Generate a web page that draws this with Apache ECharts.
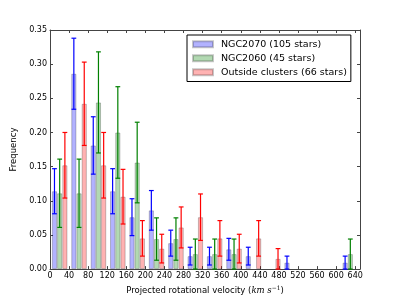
<!DOCTYPE html>
<html>
<head>
<meta charset="utf-8">
<script src="https://cdn.jsdelivr.net/npm/echarts@6/dist/echarts.min.js"></script>
<style>html,body{margin:0;padding:0;background:#fff}#c{width:400px;height:300px}</style>
</head>
<body>
<div id="c"></div>
<script>
// ---- data ----
const binCenters = [20.3, 60.9, 101.6, 142.2, 182.8, 223.4, 264.1, 304.7, 345.3, 385.9, 426.6, 467.2, 507.8, 548.4, 589.1, 629.7];
const seriesNames = ['NGC2070 (105 stars)', 'NGC2060 (45 stars)', 'Outside clusters (66 stars)'];
const blueFreq  = [0.114, 0.286, 0.181, 0.114, 0.076, 0.086, 0.038, 0.019, 0.019, 0.029, 0.019, 0, 0.0095, 0, 0, 0.0095];
const blueErr   = [0.033, 0.052, 0.042, 0.033, 0.027, 0.029, 0.019, 0.013, 0.013, 0.016, 0.013, 0, 0.0095, 0, 0, 0.0095];
const greenFreq = [0.111, 0.111, 0.244, 0.200, 0.156, 0.044, 0.044, 0.022, 0.022, 0.022, 0, 0, 0, 0, 0, 0.022];
const greenErr  = [0.050, 0.050, 0.074, 0.067, 0.059, 0.031, 0.031, 0.022, 0.022, 0.022, 0, 0, 0, 0, 0, 0.022];
const redFreq   = [0.152, 0.242, 0.152, 0.106, 0.045, 0.030, 0.061, 0.076, 0.045, 0.030, 0.045, 0.015, 0, 0, 0, 0];
const redErr    = [0.048, 0.061, 0.048, 0.040, 0.026, 0.021, 0.030, 0.034, 0.026, 0.021, 0.026, 0.015, 0, 0, 0, 0];
const xMin = 0, xMax = 650, xStep = 40;
const yMin = 0, yMax = 0.35, yStep = 0.05;

// ---- styles ----
const FONT = 'DejaVu Sans';
const BAR_PX = 5.2;
const fills = ['rgba(0,0,255,0.3)', 'rgba(0,128,0,0.3)', 'rgba(255,0,0,0.3)'];
const errColors = ['#0000ff', '#008000', '#ff0000'];
const offsets = [-BAR_PX, 0, BAR_PX];
const freqs = [blueFreq, greenFreq, redFreq];
const errs = [blueErr, greenErr, redErr];

function barData(f) {
  const out = [];
  f.forEach((v, i) => { if (v > 0) out.push([binCenters[i], v]); });
  return out;
}
function errData(f, e) {
  const out = [];
  f.forEach((v, i) => { if (v > 0) out.push([binCenters[i], v, e[i]]); });
  return out;
}
function errRender(k) {
  return function (params, api) {
    const x = api.value(0), v = api.value(1), e = api.value(2);
    const top = api.coord([x, v + e]);
    const bot = api.coord([x, Math.max(0, v - e)]);
    const px = top[0] + offsets[k];
    const st = { stroke: errColors[k], lineWidth: 1.2 };
    const cw = 2.4;
    return {
      type: 'group',
      children: [
        { type: 'line', shape: { x1: px, y1: top[1], x2: px, y2: bot[1] }, style: st },
        { type: 'line', shape: { x1: px - cw, y1: top[1], x2: px + cw, y2: top[1] }, style: st },
        { type: 'line', shape: { x1: px - cw, y1: bot[1], x2: px + cw, y2: bot[1] }, style: st }
      ]
    };
  };
}

const axisLineStyle = { color: '#444', width: 1 };
const tickStyle = { show: true, inside: true, length: 3, lineStyle: { color: '#444', width: 1 } };

const series = [];
for (let k = 0; k < 3; k++) {
  series.push({
    name: seriesNames[k], type: 'bar', xAxisIndex: 0, yAxisIndex: 0,
    barWidth: BAR_PX, barGap: '0%',
    itemStyle: { color: fills[k], borderColor: 'rgba(0,0,0,0.22)', borderWidth: 1 },
    data: barData(freqs[k]), silent: true, z: 2
  });
}
for (let k = 0; k < 3; k++) {
  series.push({
    type: 'custom', xAxisIndex: 0, yAxisIndex: 0,
    renderItem: errRender(k), encode: { x: 0, y: 1 },
    data: errData(freqs[k], errs[k]), silent: true, z: 3
  });
}

const chart = echarts.init(document.getElementById('c'), null, { renderer: 'canvas' });
chart.setOption({
  animation: false,
  backgroundColor: '#fff',
  textStyle: { fontFamily: FONT },
  grid: { left: 50, right: 40, top: 30, bottom: 30, containLabel: false },
  legend: {
    data: seriesNames, orient: 'vertical', left: 187, top: 35,
    padding: [4, 4, 4, 5], itemGap: 3.5, itemWidth: 20, itemHeight: 6,
    backgroundColor: '#fff', borderColor: '#000', borderWidth: 1, borderRadius: 0,
    textStyle: { fontFamily: FONT, fontSize: 9.5, color: '#000', lineHeight: 10.5, padding: [0, 0, 0, 3] },
    icon: 'rect', selectedMode: false, z: 10
  },
  xAxis: [{
    type: 'value', min: xMin, max: xMax, interval: xStep,
    name: 'Projected rotational velocity ({i|km s}{s|−1})',
    nameLocation: 'middle', nameGap: 6,
    nameTextStyle: {
      fontFamily: FONT, fontSize: 8.5, color: '#000',
      rich: {
        i: { fontFamily: 'DejaVu Serif', fontStyle: 'italic', fontSize: 8.5, color: '#000' },
        s: { fontFamily: 'DejaVu Serif', fontSize: 6, color: '#000', verticalAlign: 'top', padding: [0, 0, 5, 0] }
      }
    },
    axisLine: { show: true, onZero: false, lineStyle: axisLineStyle },
    axisTick: tickStyle,
    axisLabel: { fontFamily: FONT, fontSize: 8, color: '#000', margin: 3, showMaxLabel: false },
    splitLine: { show: false }
  }, {
    type: 'value', position: 'top', min: xMin, max: xMax, interval: xStep,
    axisLine: { show: true, onZero: false, lineStyle: axisLineStyle },
    axisTick: tickStyle, axisLabel: { show: false }, splitLine: { show: false }
  }],
  yAxis: [{
    type: 'value', min: yMin, max: yMax, interval: yStep,
    name: 'Frequency', nameLocation: 'middle', nameGap: 21, nameRotate: 90,
    nameTextStyle: { fontFamily: FONT, fontSize: 8.5, color: '#000' },
    axisLine: { show: true, onZero: false, lineStyle: axisLineStyle },
    axisTick: tickStyle,
    axisLabel: { fontFamily: FONT, fontSize: 8, color: '#000', margin: 3, formatter: v => v.toFixed(2) },
    splitLine: { show: false }
  }, {
    type: 'value', position: 'right', min: yMin, max: yMax, interval: yStep,
    axisLine: { show: true, onZero: false, lineStyle: axisLineStyle },
    axisTick: tickStyle, axisLabel: { show: false }, splitLine: { show: false }
  }],
  series: series
});
</script>
</body>
</html>
